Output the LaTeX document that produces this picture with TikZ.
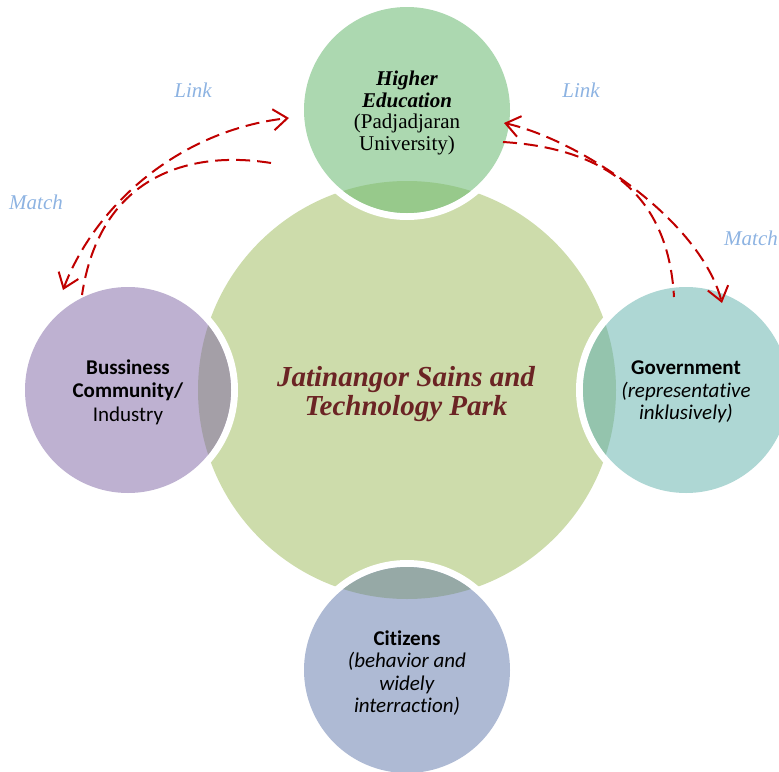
\documentclass[tikz,border=0pt]{standalone}
\usepackage{fontspec}
\setmainfont{Liberation Serif}
\newfontfamily\calib[Ligatures={NoCommon}]{Carlito}
\usetikzlibrary{arrows.meta}
\definecolor{bigc}{HTML}{CDDCAB}
\definecolor{topc}{HTML}{ACD8B0}
\definecolor{topo}{HTML}{97C98B}
\definecolor{leftc}{HTML}{BEB1D1}
\definecolor{lefto}{HTML}{A49FA7}
\definecolor{rightc}{HTML}{AED7D4}
\definecolor{righto}{HTML}{94C4AD}
\definecolor{botc}{HTML}{AEBAD4}
\definecolor{boto}{HTML}{96A9A6}
\definecolor{arrowred}{HTML}{C00000}
\definecolor{linkblue}{HTML}{8DB3E2}
\definecolor{parkred}{HTML}{6B2424}
\tikzset{barbtip/.tip={Straight Barb[length=14pt,width=21pt]}}
\begin{document}
\begin{tikzpicture}[x=1pt,y=-1pt,
  link/.style={draw=arrowred, line width=2pt, dash pattern=on 14pt off 7pt},
  lbl/.style={text=linkblue, font=\fontsize{21}{23}\selectfont\itshape},
  sertext/.style={align=center, inner sep=0pt, font=\fontsize{21}{21.5}\selectfont},
  caltext/.style={align=center, inner sep=0pt, font=\calib\fontsize{21}{23.5}\selectfont},
]
\clip (0,0) rectangle (779,771);
% central circle
\coordinate (C) at (407,390);
\fill[bigc] (C) circle (209pt);
% satellites
\foreach \cx/\cy/\fc/\oc in {407/110/topc/topo, 128/390/leftc/lefto, 686/390/rightc/righto, 407/670/botc/boto}{
  \fill[white] (\cx,\cy) circle (110pt);
  \fill[\fc] (\cx,\cy) circle (103pt);
  \begin{scope}
    \clip (\cx,\cy) circle (103pt);
    \fill[\oc] (C) circle (209pt);
  \end{scope}
}
% texts
\node[align=center, inner sep=0pt, text=parkred, font=\fontsize{29}{28.5}\selectfont\bfseries\itshape] (park) at (406,394) {Jatinangor Sains and\\Technology Park};
\node[sertext] (he) at (407,113) {\textbf{\textit{Higher}}\\\textbf{\textit{Education}}\\(Padjadjaran\\University)};
\node[caltext] (bc) at (128,392) {\textbf{Bussiness}\\\textbf{Community/}\\Industry};
\node[caltext, font=\calib\fontsize{21}{22.5}\selectfont] (gov) at (686,392) {\textbf{Government}\\\textit{(representative}\\\textit{inklusively)}};
\node[caltext, font=\calib\fontsize{21}{22.5}\selectfont] (cit) at (407,673) {\textbf{Citizens}\\\textit{(behavior and}\\\textit{widely}\\\textit{interraction)}};
% labels
\node[lbl] (link1) at (193,90) {Link};
\node[lbl] (link2) at (581,90) {Link};
\node[lbl] (match1) at (36,202) {Match};
\node[lbl] (match2) at (751,238) {Match};
% arrows
\coordinate (l1a) at (63,290);
\coordinate (l1b) at (289,118);
\coordinate (l2a) at (271,163);
\coordinate (l2b) at (82,295);
\coordinate (r1a) at (504,123);
\coordinate (r1b) at (722,303);
\coordinate (r2a) at (503,142);
\coordinate (r2b) at (674,297);
\draw[link, barbtip-barbtip] (l1a) .. controls (95,205) and (180,130) .. (l1b);
\draw[link] (l2a) .. controls (190,150) and (100,175) .. (l2b);
\draw[link, barbtip-barbtip] (r1a) .. controls (580,140) and (700,220) .. (r1b);
\draw[link] (r2a) .. controls (600,148) and (668,190) .. (r2b);
\end{tikzpicture}
\end{document}
